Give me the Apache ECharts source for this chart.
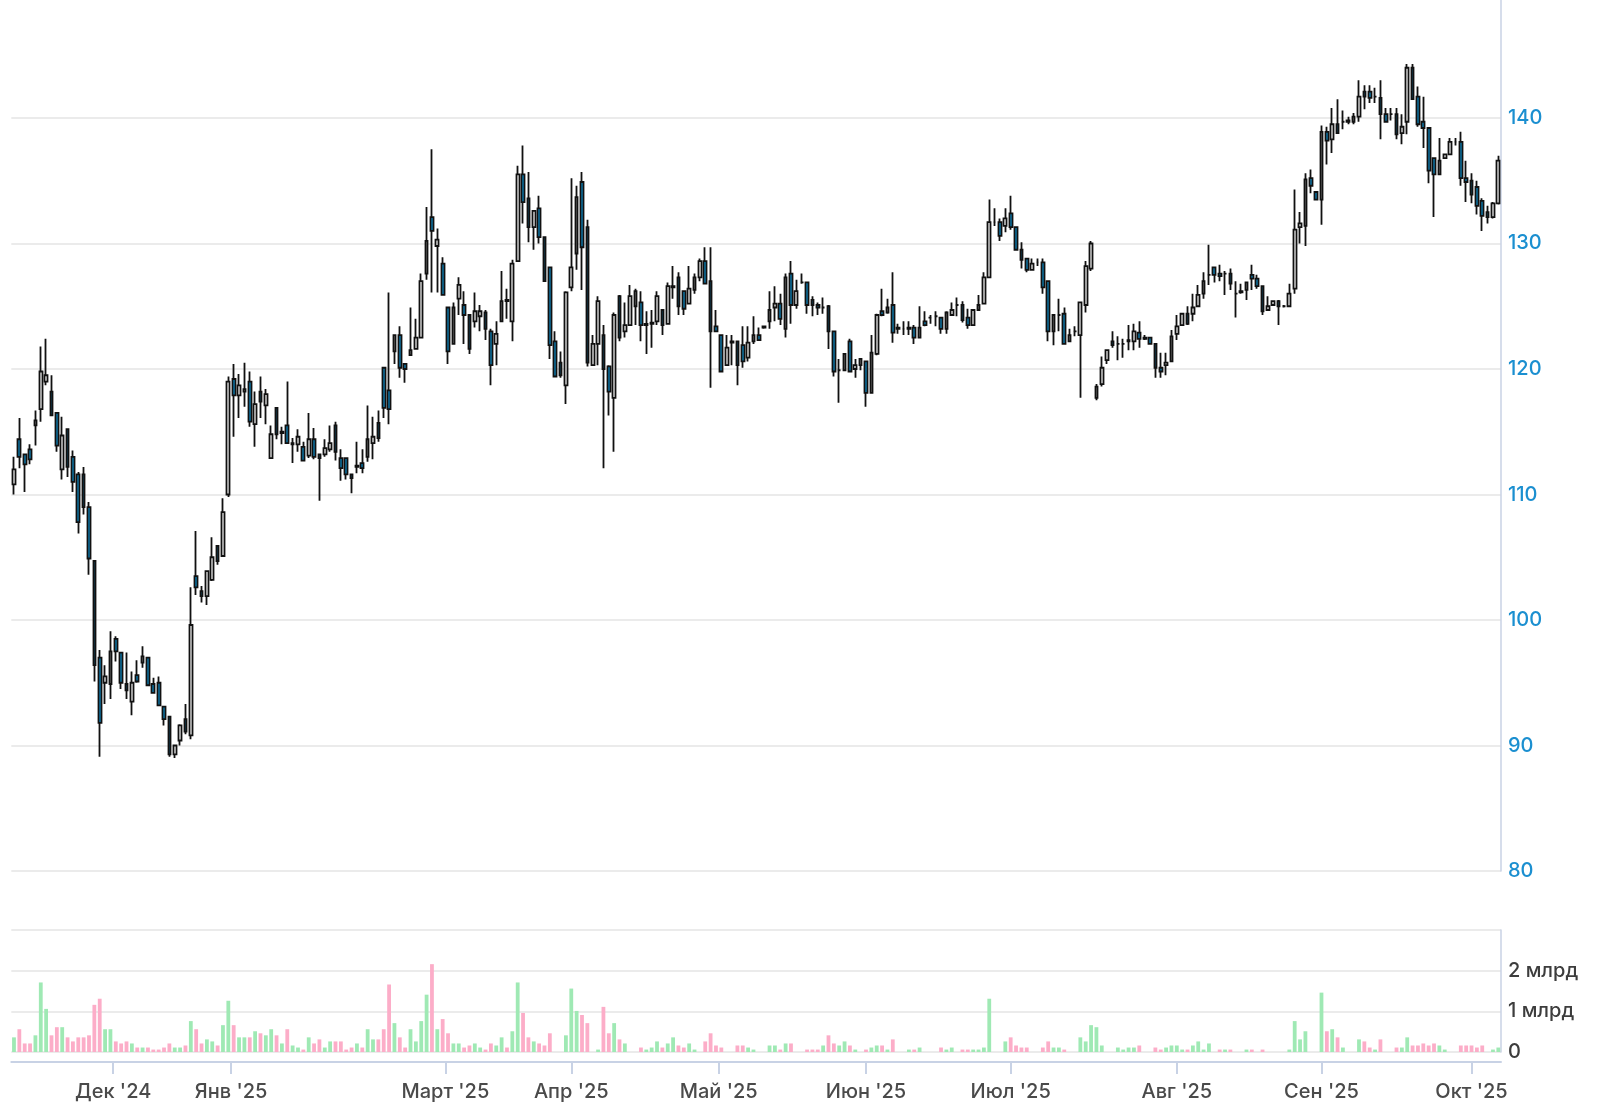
<!DOCTYPE html>
<html>
<head>
<meta charset="utf-8">
<title>Котировки</title>
<script src="https://cdn.jsdelivr.net/npm/echarts@6/dist/echarts.min.js"></script>
<style>
    html, body { margin: 0; padding: 0; background: #ffffff; }
    #chart { width: 1610px; height: 1108px; }
</style>
</head>
<body>
<div id="chart"></div>
<script>
(function () {

    // свечи: [открытие, закрытие, минимум, максимум]
    var candleOHLC = [
        [110.8,112.0,110.0,113.0],[114.4,113.0,112.1,116.1],[113.2,112.4,110.2,113.2],[113.6,112.8,112.4,114.0],[115.5,115.9,113.9,116.7],
        [116.8,119.8,115.8,121.8],[119.0,119.5,118.7,122.4],[118.2,116.3,116.3,119.5],[116.5,113.9,113.4,116.5],[112.0,114.7,111.2,116.2],
        [115.2,112.2,111.4,115.2],[113.0,111.0,110.2,113.5],[111.6,107.8,106.9,111.8],[111.6,109.0,108.4,112.2],[109.0,104.9,103.6,109.4],
        [104.7,96.4,95.1,104.7],[97.0,91.8,89.1,97.6],[95.0,95.5,93.3,96.4],[94.9,97.5,93.7,99.1],[98.5,97.5,96.7,98.7],
        [97.4,95.0,94.5,97.4],[94.9,94.4,93.7,97.4],[93.5,95.0,92.4,95.9],[95.6,95.1,95.0,96.8],[96.6,97.1,96.2,97.9],
        [97.0,94.8,94.8,97.0],[94.9,94.2,94.2,95.4],[95.0,93.2,93.2,95.5],[93.1,92.1,91.6,93.1],[92.3,89.3,89.1,92.3],
        [89.3,90.0,89.0,90.0],[90.4,91.6,90.0,91.7],[92.1,91.1,90.9,93.3],[90.8,99.6,90.5,102.6],[103.5,102.6,102.0,107.1],
        [102.3,101.9,101.4,102.7],[101.9,103.9,101.2,103.9],[103.2,105.0,103.1,106.6],[105.9,104.7,104.4,105.9],[105.1,108.6,105.1,109.7],
        [110.0,119.0,109.8,119.4],[119.2,117.9,114.6,120.4],[117.9,118.7,116.1,119.6],[118.2,118.4,117.0,120.5],[119.0,115.8,115.4,119.8],
        [115.6,117.2,113.8,118.2],[118.2,117.4,116.1,119.4],[117.1,118.0,115.6,118.4],[112.9,114.8,112.9,115.5],[116.9,114.8,114.4,116.9],
        [114.9,115.0,114.0,115.4],[115.5,114.1,114.1,119.0],[114.0,114.1,112.5,114.5],[114.0,114.6,113.4,115.2],[113.8,112.7,112.7,114.2],
        [113.1,114.4,112.9,116.5],[114.4,113.0,112.8,115.3],[113.2,112.9,109.5,113.2],[113.2,113.7,113.0,114.4],[113.6,114.1,113.4,115.5],
        [115.5,113.4,112.7,115.8],[112.9,112.1,111.1,113.6],[112.9,111.6,111.2,112.9],[111.6,111.3,110.1,111.6],[112.2,112.3,111.7,114.2],
        [112.5,112.1,111.7,113.6],[113.0,114.4,112.6,117.1],[114.1,114.6,112.8,116.2],[115.7,114.5,114.2,116.7],[120.1,116.9,116.1,120.1],
        [118.3,116.8,115.6,126.1],[121.4,122.7,120.4,122.7],[122.7,120.1,119.3,123.4],[120.4,120.0,118.9,120.4],[121.1,121.5,121.1,124.9],
        [121.6,122.5,121.6,124.0],[122.5,127.0,122.5,127.6],[127.6,130.2,127.1,132.9],[132.1,131.0,126.1,137.5],[129.8,130.3,126.1,131.2],
        [128.4,125.9,125.9,128.9],[124.9,121.4,120.4,124.9],[122.0,124.9,122.0,125.3],[125.6,126.7,124.3,127.3],[125.1,124.3,122.0,126.2],
        [124.3,121.6,121.2,124.3],[123.8,124.6,123.3,126.1],[124.2,124.6,123.0,125.1],[124.5,123.2,122.3,124.7],[123.0,120.3,118.7,123.2],
        [122.0,122.8,120.3,123.8],[123.8,125.4,123.8,127.8],[125.5,125.4,124.0,126.4],[123.8,128.4,122.2,128.7],[128.6,135.5,128.6,136.2],
        [135.5,133.3,131.6,137.8],[133.6,131.3,130.1,135.7],[131.3,132.6,129.5,132.6],[132.8,130.5,130.0,133.8],[130.5,127.0,127.0,130.5],
        [128.1,121.9,120.8,128.1],[122.2,119.4,119.4,123.0],[120.5,119.5,119.3,121.4],[118.7,126.1,117.2,126.2],[126.5,128.1,126.2,135.2],
        [129.2,133.7,127.9,134.6],[134.9,129.7,126.3,135.7],[131.3,120.5,120.2,131.9],[120.3,122.0,120.3,122.7],[122.0,125.4,120.3,125.8],
        [122.7,120.0,112.1,123.5],[120.2,118.2,116.3,120.3],[117.7,124.3,113.4,124.5],[125.8,122.5,122.2,125.9],[123.0,123.5,122.5,125.3],
        [123.5,125.8,123.5,126.7],[125.0,126.2,123.5,126.4],[125.3,123.5,122.2,126.2],[123.5,123.6,121.2,124.6],[123.6,123.7,121.7,124.7],
        [123.8,125.8,123.5,126.2],[124.7,123.5,122.7,124.7],[123.6,126.6,123.6,126.9],[126.5,126.6,125.6,128.2],[127.3,125.0,124.3,127.7],
        [126.2,124.8,124.3,126.2],[125.2,126.4,125.2,128.2],[126.3,127.3,126.0,127.6],[127.3,128.6,127.0,128.8],[128.6,126.8,126.8,129.7],
        [127.0,123.0,118.5,129.7],[123.4,123.0,123.0,124.7],[122.7,119.8,119.8,122.7],[120.3,121.7,120.3,122.7],[122.2,122.1,120.3,122.7],
        [122.2,120.3,118.7,122.2],[121.9,120.6,120.1,123.4],[120.9,122.1,120.6,123.4],[122.2,122.7,122.0,124.2],[122.7,122.3,122.3,123.3],
        [123.3,123.4,123.2,123.4],[123.8,124.7,123.2,126.2],[124.9,125.2,123.8,126.6],[125.2,124.0,123.5,126.0],[123.2,127.3,122.5,127.6],
        [127.6,125.1,123.6,128.6],[125.1,126.2,124.8,127.1],[126.9,126.9,126.8,127.6],[126.9,125.1,124.4,126.9],[125.5,125.1,124.2,125.8],
        [125.1,124.9,124.3,125.3],[124.9,124.9,124.4,125.7],[125.0,123.0,121.6,125.1],[123.0,119.8,119.4,123.0],[119.9,119.9,117.3,120.8],
        [119.9,121.2,119.9,121.2],[122.2,119.8,119.8,122.4],[120.0,120.3,119.3,120.8],[120.3,120.8,119.9,120.8],[120.6,118.1,117.0,120.6],
        [118.1,121.3,118.1,122.7],[121.2,124.3,121.1,124.4],[124.6,124.3,124.2,126.4],[124.5,124.9,124.4,125.6],[125.1,122.9,122.1,127.7],
        [123.3,123.2,122.8,123.6],[123.2,123.2,122.7,123.8],[123.2,123.3,122.7,123.8],[123.3,122.5,122.0,123.5],[122.5,123.3,122.5,125.0],
        [123.8,123.5,123.4,124.6],[124.1,124.1,123.6,124.3],[124.2,124.2,123.4,124.6],[124.1,123.2,122.8,124.1],[123.2,124.5,122.8,124.6],
        [124.3,124.7,124.3,125.3],[125.1,125.1,124.2,125.7],[125.1,123.9,123.7,125.4],[124.1,123.5,123.2,124.8],[123.5,124.7,123.5,124.7],
        [124.7,125.1,124.7,125.9],[125.2,127.3,125.2,127.7],[127.3,131.7,127.3,133.5],[131.7,131.7,131.4,132.8],[131.7,130.6,130.2,132.0],
        [131.4,132.0,130.9,132.8],[132.4,131.3,131.1,133.8],[131.3,129.5,129.5,131.3],[129.5,128.7,128.0,130.1],[128.8,127.9,127.7,128.8],
        [127.9,128.4,127.9,128.8],[128.5,128.5,128.2,128.8],[128.5,126.5,126.0,128.8],[127.0,123.0,122.2,127.0],[123.0,124.3,121.9,124.3],
        [124.3,124.3,123.0,125.6],[124.4,122.0,122.0,124.9],[122.2,122.7,122.2,123.2],[123.0,123.0,122.6,123.4],[122.7,125.3,117.7,125.3],
        [125.1,128.2,124.5,128.6],[128.0,130.0,127.8,130.2],[117.7,118.6,117.5,118.8],[118.8,120.1,118.6,121.0],[120.7,121.5,120.4,121.5],
        [122.2,121.9,121.7,123.0],[122.0,122.0,120.7,122.6],[122.0,122.0,120.9,122.4],[122.2,122.3,121.5,123.5],[122.2,123.0,121.5,123.6],
        [122.9,122.4,121.7,123.8],[122.5,122.4,122.3,122.7],[122.5,122.0,122.0,122.5],[122.0,120.1,119.3,122.0],[120.1,119.8,119.3,121.3],
        [120.3,120.5,119.5,121.3],[120.6,122.6,120.6,123.1],[122.8,123.4,122.3,124.3],[123.5,124.4,123.5,124.4],[124.4,123.6,123.5,125.0],
        [124.4,124.9,123.8,126.0],[125.0,125.9,125.0,126.7],[126.0,127.0,125.6,127.7],[127.5,127.5,126.7,129.9],[128.1,127.5,126.9,128.1],
        [127.6,127.4,127.0,128.3],[127.6,127.6,125.9,127.8],[127.6,126.8,126.3,128.0],[126.0,126.0,124.1,127.0],[126.1,126.2,126.0,126.8],
        [126.3,126.9,125.5,126.9],[127.5,127.2,126.3,128.3],[127.2,126.6,126.4,127.5],[126.6,124.6,124.3,126.6],[124.7,125.0,124.7,125.8],
        [125.1,125.4,125.1,125.4],[125.4,125.0,123.5,125.5],[125.0,125.0,124.9,125.1],[125.0,126.0,125.0,126.8],[126.4,131.1,126.0,134.3],
        [131.3,131.6,130.0,132.5],[131.4,135.1,129.8,135.6],[135.2,134.6,134.0,135.9],[134.1,133.5,133.5,134.1],[133.5,138.9,131.5,139.4],
        [138.9,138.2,136.3,139.3],[138.3,139.5,137.2,140.8],[139.5,138.8,138.8,141.5],[139.7,139.7,139.1,140.6],[139.8,139.7,139.5,140.1],
        [139.7,140.1,139.5,140.4],[140.1,141.7,139.7,143.0],[142.1,141.7,140.7,142.6],[142.1,141.6,141.2,142.6],[141.7,141.7,141.2,142.4],
        [141.6,140.3,138.3,143.0],[140.3,139.7,139.7,140.8],[140.3,140.3,139.8,140.8],[140.3,138.7,138.3,140.8],[138.8,139.3,137.9,140.3],
        [139.7,144.0,138.7,144.3],[144.0,141.5,141.5,144.3],[141.7,139.5,139.3,142.5],[139.7,139.2,137.6,141.7],[139.2,135.8,134.8,139.2],
        [136.8,135.5,132.1,136.8],[135.5,136.6,135.5,138.4],[136.8,137.1,136.8,137.1],[137.1,138.1,137.1,138.4],[138.1,138.1,137.8,138.4],
        [138.1,135.2,134.6,138.9],[135.2,134.9,133.3,136.6],[135.0,133.9,133.2,135.6],[134.5,133.0,132.3,135.0],[133.4,132.2,131.0,133.6],
        [132.5,132.1,131.6,133.0],[132.1,133.2,132.0,133.3],[133.2,136.6,133.1,137.0]
    ];

    // объём торгов, млрд
    var volumeBn = [
        .36,.56,.21,.21,.41,1.71,1.06,.41,.61,.61,
        .36,.26,.36,.36,.41,1.16,1.31,.56,.56,.26,
        .21,.26,.21,.11,.11,.11,.06,.06,.11,.21,
        .11,.11,.16,.76,.56,.21,.31,.26,.16,.66,
        1.26,.66,.36,.36,.36,.51,.46,.41,.56,.41,
        .21,.56,.16,.11,.06,.36,.21,.31,.11,.26,
        .26,.26,.06,.11,.21,.11,.56,.31,.31,.56,
        1.66,.71,.36,.11,.56,.26,.76,1.41,2.16,.56,
        .81,.46,.21,.21,.11,.16,.21,.11,.06,.21,
        .16,.36,.11,.51,1.71,.96,.36,.26,.21,.16,
        .46,0,0,.41,1.56,1.01,.91,.71,0,.06,
        1.11,.46,.71,.31,.21,0,0,.11,.06,.11,
        .26,.11,.21,.36,.16,.11,.21,.06,0,.26,
        .46,.16,.11,0,0,
        .16,.16,.11,.06,0,0,.16,.16,.06,.21,
        .21,0,0,.06,.06,.06,.16,.41,.21,.16,
        .26,.16,.06,0,.06,.11,.16,.16,.06,.31,
        0,0,.06,.06,.11,0,0,0,
        .11,.06,.11,0,.06,.06,.06,.06,.11,1.31,
        0,0,.26,.36,.16,.11,.11,0,0,.11,
        .26,.11,.11,.06,0,0,.36,.26,.66,.61,
        .16,0,0,.11,.06,.11,.11,.16,0,0,
        .11,.06,.11,.16,.16,.06,.06,.16,.26,.06,
        .21,0,.06,.06,.06,0,0,.06,.06,0,
        .06,0,0,0,0,.06,.76,.31,.51,0,
        0,1.46,.51,.56,.36,.11,0,0,.31,.26,
        .11,.06,.31,0,0,.11,.11,.36,.16,.16,
        .21,.16,.21,.16,.06,0,0,.16,.16,
        .16,.11,.16,0,.06,.11
    ];

    // подписи месяцев и их место на оси (номер торгового дня)
    var monthTickAt = [18.5, 40.5, 80.5, 104, 131.5, 159, 186, 217, 244, 272];
    var monthNames = ["Дек '24", "Янв '25", "Март '25", "Апр '25", "Май '25", "Июн '25", "Июл '25", "Авг '25", "Сен '25", "Окт '25"];

    var upFill = '#ffffff';
    var downFill = '#0d8bc6';
    var volUp = '#9fe9b4';
    var volDown = '#fcadc8';
    var gridGray = '#e4e4e4';
    var axisBlue = '#c8d2e5';
    var labelFont = 20;

    var n = candleOHLC.length;
    var candleData = candleOHLC.map(function (d, i) {
        return [i, d[0], d[1], d[2], d[3]];
    });
    var volumeData = volumeBn.slice(0, n).map(function (v, i) {
        var d = candleOHLC[i];
        return {
            value: [i, v],
            itemStyle: { color: d[1] >= d[0] ? volUp : volDown }
        };
    });

    var chart = echarts.init(document.getElementById('chart'));

    chart.setOption({
        animation: false,
        backgroundColor: '#ffffff',
        textStyle: { fontFamily: 'Inter, "Noto Sans", sans-serif' },
        grid: [
            { left: 11.3, right: 109, top: 0, bottom: 237 },
            { left: 11.3, right: 109, top: 930, height: 122 }
        ],
        xAxis: [
            {
                type: 'value', gridIndex: 0, min: -0.5, max: n - 0.5,
                show: false, splitLine: { show: false }
            },
            {
                type: 'value', gridIndex: 1, min: -0.5, max: n - 0.5,
                offset: 10,
                splitLine: { show: false },
                axisLine: { show: true, onZero: false, lineStyle: { color: axisBlue, width: 2 } },
                axisTick: {
                    show: true, length: 12, customValues: monthTickAt,
                    lineStyle: { color: axisBlue, width: 2 }
                },
                axisLabel: {
                    customValues: monthTickAt, margin: 20,
                    color: '#4a4a4a', fontSize: labelFont, fontWeight: 500,
                    formatter: function (v) {
                        var k = monthTickAt.indexOf(v);
                        return k >= 0 ? monthNames[k] : '';
                    }
                }
            }
        ],
        yAxis: [
            {
                type: 'value', gridIndex: 0, position: 'right',
                min: 80, max: 149.4, interval: 10,
                axisLine: { show: true, onZero: false, lineStyle: { color: axisBlue, width: 1.5 } },
                axisTick: { show: false },
                axisLabel: {
                    color: '#1b8fd0', fontSize: labelFont, fontWeight: 500,
                    margin: 7, showMaxLabel: false
                },
                splitLine: { showMaxLine: false, lineStyle: { color: gridGray, width: 1.5 } }
            },
            {
                type: 'value', gridIndex: 1, position: 'right',
                min: 0, max: 3, interval: 1,
                axisLine: { show: true, onZero: false, lineStyle: { color: axisBlue, width: 1.5 } },
                axisTick: { show: false },
                axisLabel: {
                    color: '#3d3d3d', fontSize: labelFont, fontWeight: 500,
                    margin: 7, showMaxLabel: false,
                    formatter: function (v) { return v === 0 ? '0' : v + ' млрд'; }
                },
                splitLine: { lineStyle: { color: gridGray, width: 1.5 } }
            }
        ],
        series: [
            {
                name: 'Цена',
                type: 'candlestick',
                xAxisIndex: 0, yAxisIndex: 0,
                barWidth: 3.2,
                itemStyle: {
                    color: upFill, color0: downFill,
                    borderColor: '#111111', borderColor0: '#111111',
                    borderWidth: 1.8
                },
                data: candleData
            },
            {
                name: 'Объём',
                type: 'bar',
                xAxisIndex: 1, yAxisIndex: 1,
                barWidth: 3.8,
                data: volumeData
            }
        ]
    });
})();
</script>
</body>
</html>
